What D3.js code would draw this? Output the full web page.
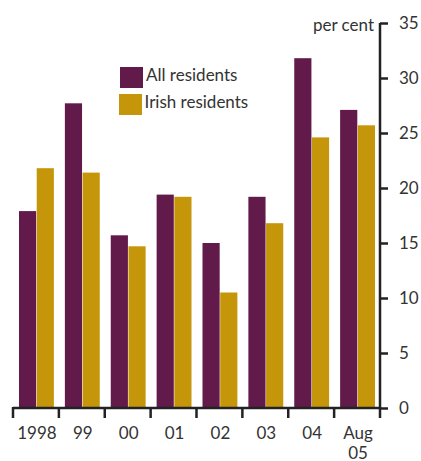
<!DOCTYPE html>
<html><head><meta charset="utf-8">
<script src="https://cdn.jsdelivr.net/npm/d3@7"></script>
<style>body{margin:0;background:#fff}svg{display:block}text{font-family:Lato,"Open Sans",sans-serif;fill:#333}</style>
</head><body><svg id="c" width="421" height="461"></svg>
<script>
const categories = ["1998","99","00","01","02","03","04","Aug\n05"];
const allResidents = [17.9,27.7,15.7,19.4,15.0,19.2,31.8,27.1];
const irishResidents = [21.8,21.4,14.7,19.2,10.5,16.8,24.6,25.7];
const yTicks = [0,5,10,15,20,25,30,35];
const seriesNames = ["All residents","Irish residents"];
const colors = ["#621a4b","#c5960a"];

const svg = d3.select("#c");
const x0 = d3.scaleBand().domain(categories).range([13,380]).paddingInner(0).paddingOuter(0);
const y = d3.scaleLinear().domain([0,35]).range([408,23]);
const x1 = d3.scaleBand().domain([0,1]).range([6, x0.bandwidth()-5]).paddingInner(0.03);

const g = svg.append("g");
categories.forEach((c,i)=>{
  [allResidents[i], irishResidents[i]].forEach((v,j)=>{
    g.append("rect").attr("x", x0(c)+x1(j)).attr("width", x1.bandwidth())
      .attr("y", y(v)).attr("height", y(0)-y(v)).attr("fill", colors[j]);
  });
});

// right axis
const ya = svg.append("g").attr("transform","translate(380,0)")
  .call(d3.axisRight(y).tickValues(yTicks).tickSize(8).tickPadding(11));
ya.select(".domain").attr("stroke","#222").attr("stroke-width",2.5).attr("d","M0,23V408");
ya.selectAll(".tick line").attr("stroke","#222").attr("stroke-width",2.5);
ya.selectAll(".tick text").attr("font-size",17).attr("fill","#333").attr("font-family","Lato,sans-serif");

// bottom axis
const bounds = categories.map(c=>x0(c)).concat([x0.range()[1]]);
const xa = svg.append("g");
xa.append("line").attr("x1",13).attr("x2",381).attr("y1",408).attr("y2",408).attr("stroke","#222").attr("stroke-width",2.5);
xa.selectAll(".bt").data(bounds).join("line").attr("x1",d=>d).attr("x2",d=>d).attr("y1",407).attr("y2",418)
  .attr("stroke","#222").attr("stroke-width",2.5);
categories.forEach(c=>{
  const lines = c.split("\n");
  const t = xa.append("text").attr("x", x0(c)+x0.bandwidth()/2+1).attr("y",439)
    .attr("text-anchor","middle").attr("font-size",17);
  lines.forEach((l,k)=>t.append("tspan").attr("x", x0(c)+x0.bandwidth()/2+1).attr("dy", k?20:0).text(l));
});

svg.append("text").attr("x",374).attr("y",31).attr("text-anchor","end").attr("font-size",17).text("per cent");

// legend
const lg = svg.append("g");
seriesNames.forEach((s,i)=>{
  lg.append("rect").attr("x",120 - i).attr("y",67+27*i).attr("width",23).attr("height",21).attr("fill",colors[i]);
  lg.append("text").attr("x",146 - i*1.5).attr("y",81+27*i).attr("font-size",17).text(s);
});
</script></body></html>
